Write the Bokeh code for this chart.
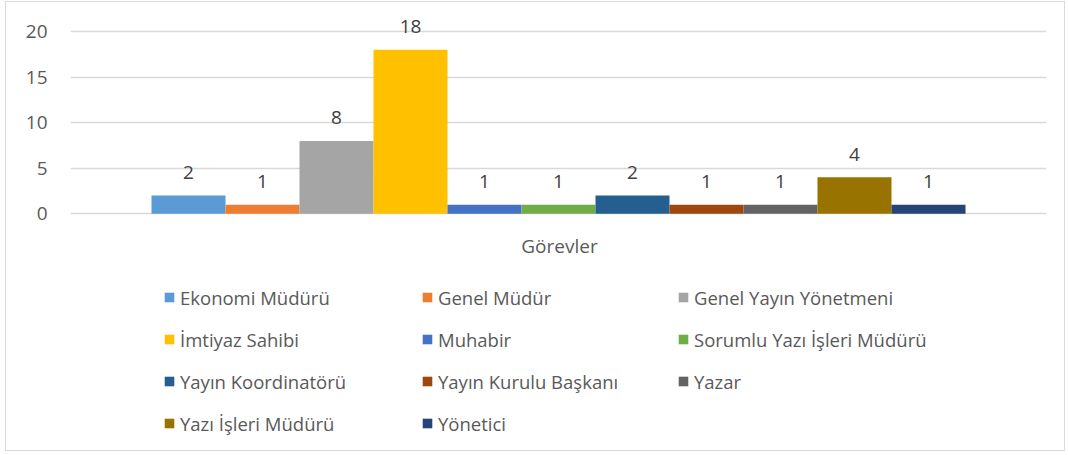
from bokeh.plotting import figure
from bokeh.models import (ColumnDataSource, FactorRange, FixedTicker, LabelSet, Label,
                          Legend, LegendItem)
from bokeh.core.properties import value
from bokeh.embed import file_html
from bokeh.resources import INLINE

# ---- data ----
series = ["Ekonomi Müdürü", "Genel Müdür", "Genel Yayın Yönetmeni", "İmtiyaz Sahibi",
          "Muhabir", "Sorumlu Yazı İşleri Müdürü", "Yayın Koordinatörü",
          "Yayın Kurulu Başkanı", "Yazar", "Yazı İşleri Müdürü", "Yönetici"]
values = [2, 1, 8, 18, 1, 1, 2, 1, 1, 4, 1]
colors = ["#5B9BD5", "#ED7D31", "#A5A5A5", "#FFC000", "#4472C4", "#70AD47",
          "#255E91", "#9E480E", "#636363", "#997300", "#264478"]
category = "Görevler"
yticks = [0, 5, 10, 15, 20]

FONT = "Open Sans"
W, H = 1060, 450

source = ColumnDataSource(dict(name=series, value=values, color=colors,
                               label=[str(v) for v in values]))

x_range = FactorRange(factors=series, range_padding=1.0946, range_padding_units="absolute")

p = figure(width=W, height=H, x_range=x_range, y_range=(-26.18, 23.18),
           output_backend="svg", toolbar_location=None,
           min_border_left=64, min_border_right=20, min_border_top=0, min_border_bottom=0)
p.styles = {"border": "1px solid #d9d9d9", "margin-left": "5px", "margin-top": "1px"}
p.outline_line_color = None
p.background_fill_color = "white"
p.border_fill_color = "white"

r = p.vbar(x="name", top="value", width=1.0, fill_color="color", line_color=None,
           source=source)

# axes
p.xaxis.visible = False
p.xgrid.visible = False
yax = p.yaxis[0]
yax.ticker = FixedTicker(ticks=yticks)
yax.axis_line_color = None
yax.major_tick_line_color = None
yax.minor_tick_line_color = None
yax.major_tick_out = 0
yax.major_tick_in = 0
yax.major_label_standoff = 23
yax.major_label_text_font = FONT
yax.major_label_text_font_size = "19px"
yax.major_label_text_color = "#595959"
p.ygrid.ticker = FixedTicker(ticks=yticks)
p.ygrid.grid_line_color = "#d9d9d9"
p.ygrid.grid_line_width = 1.5

# data labels
labels = LabelSet(x="name", y="value", text="label", source=source, y_offset=23,
                  text_align="center", text_baseline="middle",
                  text_font=value(FONT), text_font_size=value("19px"),
                  text_color="#404040")
p.add_layout(labels)

# category label
p.add_layout(Label(x=489, y=207, x_units="screen", y_units="screen", text=category,
                   text_align="center", text_baseline="middle",
                   text_font=FONT, text_font_size="19px", text_color="#595959"))

# legends: three columns
col_x = [93, 351, 607]
item_h, gap = 26, 16
top_of_legend = 282  # from top of canvas
for c in range(3):
    idx = list(range(c, len(series), 3))
    items = [LegendItem(label=series[i], renderers=[r], index=i) for i in idx]
    n = len(idx)
    height = n * item_h + (n - 1) * gap
    y_loc = H - (top_of_legend + height)
    lg = Legend(items=items, location=(col_x[c], y_loc),
                orientation="vertical", glyph_width=12, glyph_height=12,
                label_height=item_h, spacing=gap, padding=0, margin=0,
                label_standoff=5, border_line_color=None,
                background_fill_alpha=0,
                label_text_font=FONT, label_text_font_size="18.5px",
                label_text_color="#595959")
    p.add_layout(lg)

open("out.html", "w").write(file_html(p, INLINE))
